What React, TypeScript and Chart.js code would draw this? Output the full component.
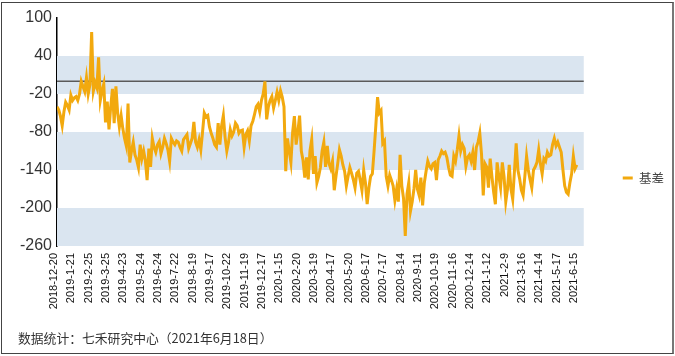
import { useEffect, useRef } from 'react';
import { Chart, registerables } from 'chart.js';

Chart.register(...registerables);

const seriesName = '基差';
const footnote = '数据统计：七禾研究中心（2021年6月18日）';

const tickLabels = [
  '2018-12-20', '2019-1-21', '2019-2-25', '2019-3-25', '2019-4-23', '2019-5-24',
  '2019-6-24', '2019-7-22', '2019-8-19', '2019-9-17', '2019-10-22', '2019-11-19',
  '2019-12-17', '2020-1-15', '2020-2-20', '2020-3-19', '2020-4-17', '2020-5-20',
  '2020-6-17', '2020-7-17', '2020-8-14', '2020-9-11', '2020-10-19', '2020-11-16',
  '2020-12-14', '2021-1-12', '2021-2-9', '2021-3-16', '2021-4-14', '2021-5-17',
  '2021-6-15',
];

const pointsPerLabel = 10;

const basis = [
  -40, -45, -55, -70, -48, -33, -38, -45, -22, -30,
  -26, -24, -30, -20, 0, -8, -16, 6, -20, -5,
  78, -15, -2, -10, 38, -30, -15, -4, -65, -32,
  -76, -40, -12, -66, -8, -50, -72, -54, -75,
  -90, -102, -35, -128, -110, -96, -116, -124, -136, -100,
  -122, -110, -125, -156, -106, -135, -90, -104, -112, -100,
  -95, -114, -104, -90, -98, -108, -126, -90, -96, -100,
  -94, -96, -104, -110, -92, -88, -84, -106, -98, -90,
  -64, -96, -104, -92, -108, -80, -50, -56, -54, -72,
  -82, -90, -100, -104, -66, -100, -70, -54, -88, -110,
  -96, -76, -86, -80, -66, -70, -82, -78, -77, -104,
  -84, -78, -94, -70, -63, -52, -40, -36, -48,
  -30, -20, 0, -60, -40, -30, -24, -42, -30, -17,
  -30, -15, -25, -40, -142, -90, -110, -128, -80, -55,
  -100, -80, -54, -110, -125, -152, -120, -155, -110, -92,
  -146, -118, -160, -150, -136, -110, -96, -135, -102, -130,
  -138, -126, -172, -150, -130, -108, -118, -132, -142, -165,
  -150, -136, -145, -155, -168, -145, -142, -156, -172, -140,
  -160, -194, -168, -150, -146, -110, -70, -25, -50, -46,
  -98, -94, -150, -165, -148, -156, -165, -188, -170,
  -190, -116, -165, -185, -244, -178, -160, -205, -190, -170,
  -140, -170, -180, -152, -196, -160, -142, -126, -134, -138,
  -130, -128, -156, -124, -118, -110, -114, -112, -120, -136,
  -148, -150, -118, -126, -108, -86, -110, -100, -106, -134,
  -120, -116, -126, -112, -140, -104, -96, -82, -115, -180,
  -130, -135, -168, -122, -150, -175, -194, -128, -150, -168,
  -128, -150, -190, -170, -132, -170, -186, -142, -98,
  -140, -154, -172, -180, -150, -118, -140, -155, -168, -140,
  -135, -128, -108, -130, -146, -122, -126, -112, -118, -116,
  -100, -90, -102, -96, -104, -112, -140, -165, -175, -178,
  -160, -146, -118, -138, -132,
];

const yMin = -260;
const yMax = 100;
const yStep = 60;
const xMax = 304;
const bandRanges = [
  [40, -20],
  [-80, -140],
  [-200, -260],
];
const refLineValue = 0;

const lineColor = '#F2A90E';
const bandColor = '#DAE5F0';

const bandsPlugin = {
  id: 'bands',
  beforeDatasetsDraw(chart: any) {
    const { ctx, chartArea, scales } = chart;
    const y = scales.y;
    ctx.save();
    ctx.fillStyle = bandColor;
    bandRanges.forEach(([a, b]) => {
      const top = y.getPixelForValue(a);
      const bottom = y.getPixelForValue(b);
      ctx.fillRect(chartArea.left, top, chartArea.right - chartArea.left, bottom - top);
    });
    const zy = y.getPixelForValue(refLineValue);
    ctx.strokeStyle = '#5a5a5a';
    ctx.lineWidth = 1.5;
    ctx.beginPath();
    ctx.moveTo(chartArea.left, zy);
    ctx.lineTo(chartArea.right, zy);
    ctx.stroke();
    ctx.restore();
  },
};

export default function App() {
  const canvasRef = useRef<HTMLCanvasElement | null>(null);

  useEffect(() => {
    document.body.style.margin = '0';
    const canvas = canvasRef.current;
    if (!canvas) return;
    const chart = new Chart(canvas, {
      type: 'line',
      data: {
        datasets: [
          {
            label: seriesName,
            data: basis.map((v, i) => ({ x: i, y: v })),
            borderColor: lineColor,
            backgroundColor: lineColor,
            borderWidth: 3,
            pointRadius: 0,
            tension: 0,
          },
        ],
      },
      options: {
        animation: false,
        responsive: false,
        devicePixelRatio: 1,
        layout: { padding: { top: 18, right: 1, left: 0, bottom: 0 } },
        plugins: {
          tooltip: { enabled: false },
          title: { display: false },
          legend: {
            position: 'right',
            labels: {
              boxWidth: 10,
              boxHeight: 3,
              padding: 39,
              color: '#444',
              font: { size: 12.5, family: "'Noto Sans CJK SC', sans-serif" },
              generateLabels: (c: any) =>
                Chart.defaults.plugins.legend.labels
                  .generateLabels(c)
                  .map((l: any) => ({ ...l, lineWidth: 0 })),
            },
          },
        },
        scales: {
          x: {
            type: 'linear',
            min: 0,
            max: xMax,
            grid: { display: false, drawTicks: false },
            border: { display: false },
            afterBuildTicks: (scale: any) => {
              scale.ticks = tickLabels.map((_, k) => ({ value: k * pointsPerLabel }));
            },
            afterFit: (scale: any) => {
              scale.height = 92;
            },
            ticks: {
              autoSkip: false,
              minRotation: 90,
              maxRotation: 90,
              padding: 7,
              labelOffset: -3,
              color: '#111',
              font: { size: 11, family: "'Liberation Sans', Arial, sans-serif" },
              callback: (value: any) => tickLabels[Math.round(Number(value) / pointsPerLabel)] ?? '',
            },
          },
          y: {
            min: yMin,
            max: yMax,
            grid: { display: false, drawTicks: false },
            border: { display: true, color: '#000', width: 1.5 },
            afterFit: (scale: any) => {
              scale.width = 57;
            },
            ticks: {
              stepSize: yStep,
              padding: 5,
              color: '#333',
              font: { size: 16, family: "'Liberation Sans', Arial, sans-serif" },
            },
          },
        },
      },
      plugins: [bandsPlugin],
    } as any);
    return () => chart.destroy();
  }, []);

  return (
    <div style={{ position: 'relative', width: 675, height: 356, background: '#fff' }}>
      <canvas ref={canvasRef} width={675} height={338} style={{ position: 'absolute', left: 0, top: 0, display: 'block' }} />
      <div
        style={{
          position: 'absolute',
          left: 1,
          top: 2,
          width: 673,
          height: 352,
          boxSizing: 'border-box',
          border: '1px solid #444',
          borderRightWidth: 2,
          borderRightColor: '#777',
          pointerEvents: 'none',
        }}
      />
      <div
        style={{
          position: 'absolute',
          left: 18,
          top: 330,
          lineHeight: '16px',
          fontSize: 12.8,
          color: '#333',
          fontFamily: "'Noto Sans CJK SC', sans-serif",
          whiteSpace: 'nowrap',
        }}
      >
        {footnote}
      </div>
    </div>
  );
}
